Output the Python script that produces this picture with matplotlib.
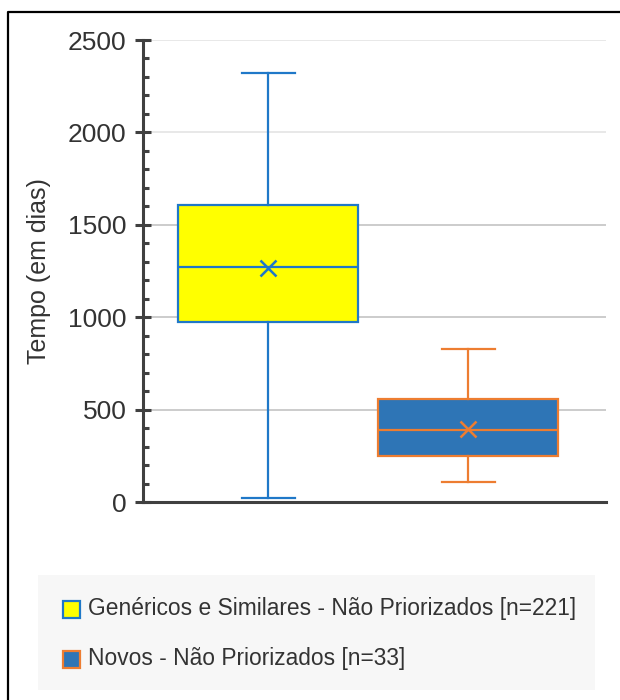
import matplotlib.pyplot as plt
from matplotlib.patches import Rectangle
from matplotlib.lines import Line2D

# values (days)
series = ["Genéricos e Similares - Não Priorizados [n=221]",
          "Novos - Não Priorizados [n=33]"]
whislo = [22, 108]
q1 = [974, 249]
med = [1272, 390]
mean = [1266, 395]
q3 = [1607, 557]
whishi = [2320, 828]

face_colors = ["#ffff00", "#2e75b6"]
edge_colors = ["#1f78c8", "#ed7d31"]

yticks = [0, 500, 1000, 1500, 2000, 2500]

plt.rcParams['font.family'] = ['Liberation Sans', 'DejaVu Sans']
text_color = "#333333"

fig = plt.figure(figsize=(6.2, 7.0), dpi=100)
ax = fig.add_axes([143 / 620, 1 - 502 / 700, 463 / 620, 462 / 700])

# gridlines (lower ones appear darker in the original)
for v in yticks[1:]:
    c = "#e4e4e4" if v >= 2000 else "#c4c4c4"
    ax.axhline(v, color=c, lw=1.2, zorder=0)

for i in range(len(series)):
    st = dict(whislo=whislo[i], q1=q1[i], med=med[i], mean=mean[i],
              q3=q3[i], whishi=whishi[i], fliers=[])
    ec = edge_colors[i]
    ax.bxp([st], positions=[i], widths=0.9, capwidths=0.265,
           showmeans=True, patch_artist=True, manage_ticks=False,
           boxprops=dict(facecolor=face_colors[i], edgecolor=ec, linewidth=1.6),
           medianprops=dict(color=ec, linewidth=1.6),
           whiskerprops=dict(color=ec, linewidth=1.6),
           capprops=dict(color=ec, linewidth=1.6),
           meanprops=dict(marker='x', markeredgecolor=ec, markersize=11,
                          markeredgewidth=1.8),
           zorder=2)

ax.set_xlim(-0.625, 1.69)
ax.set_ylim(0, 2500)
ax.set_yticks(yticks)
ax.set_yticks(range(0, 2501, 100), minor=True)
ax.set_xticks([])

for s in ["top", "right"]:
    ax.spines[s].set_visible(False)
for s in ["left", "bottom"]:
    ax.spines[s].set_color("#404040")
    ax.spines[s].set_linewidth(2.2)
    ax.spines[s].set_zorder(3)
ax.tick_params(axis='y', which='major', direction='inout', length=12,
               width=2.2, color="#404040", labelsize=19, labelcolor=text_color,
               pad=6)
ax.tick_params(axis='y', which='minor', direction='in', length=4,
               width=2.2, color="#404040")
ax.set_ylabel("Tempo (em dias)", fontsize=18, color=text_color, labelpad=12)

# legend panel
fig.patches.append(Rectangle((38 / 620, 1 - 690 / 700), 557 / 620, 115 / 700,
                             transform=fig.transFigure, facecolor="#f7f7f7",
                             edgecolor="none", zorder=0))
rows_y = [609, 659]
for i, label in enumerate(series):
    yc = 1 - rows_y[i] / 700
    fig.patches.append(Rectangle((63 / 620, yc - 9 / 700), 17 / 620, 17 / 700,
                                 transform=fig.transFigure,
                                 facecolor=face_colors[i],
                                 edgecolor=edge_colors[i], linewidth=1.6))
    fig.text(88 / 620, yc, label, fontsize=16.4, color=text_color,
             va='center', ha='left')

# outer frame (top and left edges visible)
fig.lines.append(Line2D([8 / 620, 8 / 620, 1], [0, 1 - 12 / 700, 1 - 12 / 700],
                        transform=fig.transFigure, color="black", lw=1.6))

fig.savefig("out.png", dpi=100)
